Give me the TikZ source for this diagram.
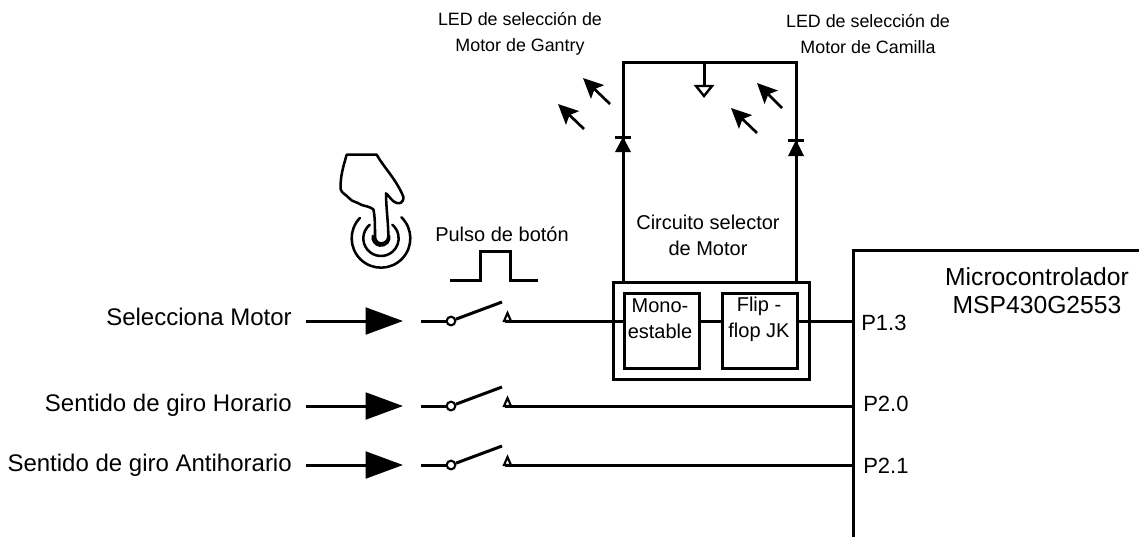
\documentclass[tikz,border=0pt]{standalone}
\usepackage{fontspec}
\setmainfont{Liberation Sans}
\usetikzlibrary{arrows.meta,positioning,calc}

\begin{document}
\begin{tikzpicture}[
    x=0.75pt,
    y=-0.75pt,
    wire/.style={
        line width=2.25pt,
        color=black,
    },
    block/.style={
        draw=black,
        line width=2.2pt,
        anchor=north west,
        inner sep=0pt,
        minimum width=56.25pt,
        minimum height=56.25pt,
    },
    blocktext/.style={
        align=center,
        font=\fontsize{15}{19.5}\selectfont,
        inner sep=0pt,
    },
    label/.style={
        align=center,
        font=\fontsize{15}{19.5}\selectfont,
        inner sep=0pt,
    },
    ledlabel/.style={
        align=center,
        font=\fontsize{13.4}{19.5}\selectfont,
        inner sep=0pt,
    },
    inlabel/.style={
        anchor=east,
        font=\fontsize{18}{21}\selectfont,
        inner sep=0pt,
    },
    pinlabel/.style={
        anchor=west,
        font=\fontsize{16.5}{19.5}\selectfont,
        inner sep=0pt,
    },
    pivot/.style={
        circle,
        draw=black,
        fill=white,
        line width=1.6pt,
        minimum size=6.5pt,
        inner sep=0pt,
    },
    inarrow/.style={
        wire,
        -{Triangle[length=28pt,width=20pt]},
    },
    ledarrow/.style={
        line width=2pt,
        -{Stealth[length=15pt,width=14pt,inset=3pt]},
    },
]
\useasboundingbox (0,0) rectangle (1139,537);

% microcontrolador
\coordinate (mcutop) at (853,250);
\coordinate (mcubot) at (853,537);
\coordinate (mcuright) at (1139,250);
\draw[wire] (mcubot) -- (mcutop) -- (mcuright);
\node[label,font=\fontsize{18.5}{21}\selectfont] (mcu) at (1037,291) {Microcontrolador\\MSP430G2553};

% circuito selector
\node[block,minimum width=147pt,minimum height=72.75pt] (sel) at (612,281) {};
\node[block] (mono) at (623,292) {};
\node[block] (flip) at (721,292) {};
\node[blocktext] (monotxt) at (660,319) {Mono-\\estable};
\node[blocktext] (fliptxt) at (759,319) {Flip -\\flop JK};
\node[label] (seltxt) at (708,235) {Circuito selector\\de Motor};

% LEDs
\coordinate (railL) at (623,62);
\coordinate (railR) at (796,62);
\coordinate (railM) at (704,62);
\coordinate (gnd) at (704,86);
\draw[wire] (sel.north -| railL) -- (railL) -- (railR) -- (sel.north -| railR);
\draw[wire] (railM) -- (gnd);
\draw[line width=1.8pt,fill=white] (696,86) -- (712,86) -- (704,96) -- cycle;
\fill (615,152) -- (631,152) -- (623,137) -- cycle;
\draw[wire] (615,137) -- (631,137);
\fill (788,156) -- (804,156) -- (796,140) -- cycle;
\draw[wire] (788,140) -- (804,140);
\draw[ledarrow] (610,104) -- (583,78);
\draw[ledarrow] (584,129) -- (558,104);
\draw[ledarrow] (782,108) -- (757,83);
\draw[ledarrow] (757,133) -- (731,108);
\node[ledlabel] (ledg) at (520,34) {LED de selección de\\Motor de Gantry};
\node[ledlabel] (ledc) at (868,34) {LED de selección de\\Motor de Camilla};

% entradas
\foreach \i/\y/\ty/\txt/\pin/\px/\py in {1/321/317/Selecciona Motor/P1.3/861/323,2/406/405/Sentido de giro Horario/P2.0/863/404,3/465/465/Sentido de giro Antihorario/P2.1/863/466} {
    \node[inlabel] (in\i) at (292,\ty) {\txt};
    \coordinate (a\i) at (306,\y);
    \coordinate (b\i) at (403,\y);
    \draw[inarrow] (a\i) -- (b\i);
    \coordinate (c\i) at (421,\y);
    \node[pivot] (sw\i) at (451,\y) {};
    \draw[wire] (c\i) -- (sw\i);
    \coordinate (blade\i) at (502,\y-19);
    \draw[wire] (sw\i) -- (blade\i);
    \coordinate (k\i) at (505,\y);
    \draw[line width=1.6pt,fill=white] (504,\y) -- (511,\y) -- (507.5,\y-8) -- cycle;
    \node[pinlabel] (pin\i) at (\px,\py) {\pin};
}
\draw[wire] (k1) -- (mono.west |- k1);
\draw[wire] (mono.east |- k1) -- (flip.west |- k1);
\draw[wire] (flip.east |- k1) -- (mcutop |- k1);
\draw[wire] (k2) -- (mcutop |- k2);
\draw[wire] (k3) -- (mcutop |- k3);

% pulso
\node[label] (pulso) at (502,234) {Pulso de botón};
\draw[wire] (450,280) -- (480,280) -- (480,251) -- (510,251) -- (510,280) -- (538,280);

% mano
\begin{scope}[shift={(320,150)},x=0.25pt,y=-0.25pt,line width=1.9pt,line join=round,line cap=round]
\draw (80,14) -- (170,14)
    .. controls (190,50) and (230,90) .. (250,140)
    .. controls (252,160) and (235,165) .. (222,155)
    .. controls (212,148) and (205,135) .. (198,130)
    .. controls (198,170) and (205,220) .. (205,258)
    .. controls (205,285) and (165,290) .. (165,258)
    .. controls (165,225) and (165,200) .. (160,178)
    .. controls (150,170) and (135,168) .. (125,165)
    .. controls (110,155) and (95,155) .. (88,145)
    .. controls (80,135) and (65,130) .. (62,118)
    .. controls (60,80) and (70,50) .. (80,14);
\draw (183,265) ++(224:88) arc[start angle=224,end angle=-46,radius=88];
\draw (183,265) ++(230:53) arc[start angle=230,end angle=-50,radius=53];
\draw (183,262) ++(190:25) arc[start angle=190,end angle=-10,radius=25];
\end{scope}
\end{tikzpicture}
\end{document}
